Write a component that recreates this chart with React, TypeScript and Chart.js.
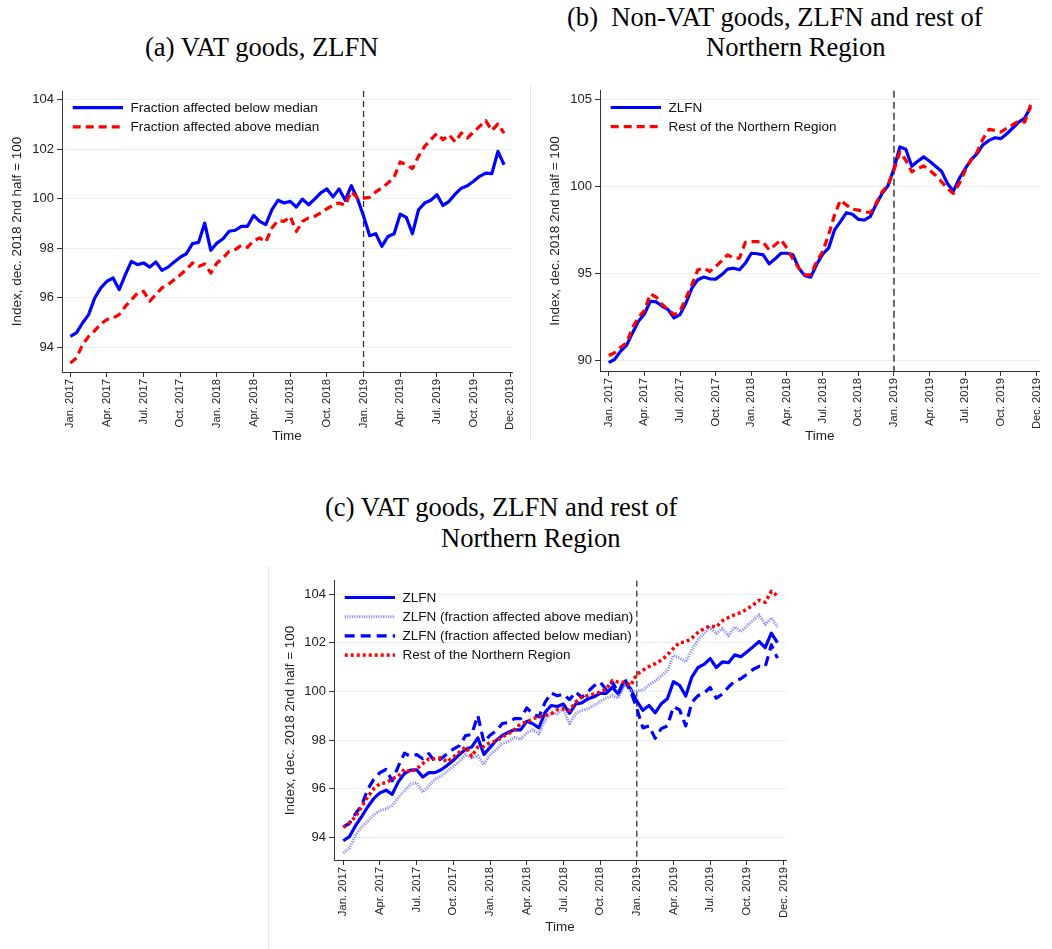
import React, { useEffect, useRef } from 'react';
import { Chart, registerables } from 'chart.js';

Chart.register(...registerables);
Chart.defaults.font.family = "'Liberation Sans', Arial, sans-serif";
Chart.defaults.color = '#222';

// x axis: half-month index, Jan 2017 first half = 0
const tickPositions = [0, 6, 12, 18, 24, 30, 36, 42, 48, 54, 60, 66, 72];
const tickLabels = [
  'Jan. 2017', 'Apr. 2017', 'Jul. 2017', 'Oct. 2017',
  'Jan. 2018', 'Apr. 2018', 'Jul. 2018', 'Oct. 2018',
  'Jan. 2019', 'Apr. 2019', 'Jul. 2019', 'Oct. 2019', 'Dec. 2019',
];
const breakIndex = 48;

// (a) / (c): VAT goods, ZLFN by fraction affected
const vatBelowMedian = [
  94.43, 94.57, 94.97, 95.31, 95.98, 96.39, 96.66, 96.79, 96.32, 96.92, 97.46, 97.33,
  97.40, 97.23, 97.44, 97.10, 97.23, 97.44, 97.63, 97.77, 98.18, 98.23, 99.01, 97.91,
  98.20, 98.38, 98.68, 98.72, 98.88, 98.88, 99.32, 99.08, 98.95, 99.55, 99.93, 99.82,
  99.89, 99.66, 99.98, 99.75, 99.98, 100.23, 100.39, 100.07, 100.39, 99.93, 100.52, 100.0,
  99.30, 98.50, 98.58, 98.07, 98.47, 98.58, 99.37, 99.24, 98.58, 99.55, 99.82, 99.93,
  100.16, 99.72, 99.89, 100.18, 100.42, 100.52, 100.70, 100.90, 101.03, 101.01, 101.91, 101.37,
];
const vatAboveMedian = [
  93.35, 93.56, 94.09, 94.43, 94.66, 94.93, 95.11, 95.17, 95.31, 95.64, 95.91, 96.18,
  96.25, 95.85, 96.12, 96.39, 96.52, 96.72, 96.92, 97.13, 97.40, 97.26, 97.36, 96.99,
  97.40, 97.60, 97.87, 97.94, 98.11, 98.03, 98.30, 98.41, 98.25, 98.81, 99.11, 99.08,
  99.28, 98.67, 99.08, 99.22, 99.28, 99.42, 99.59, 99.73, 99.82, 99.73, 100.29, 100.02,
  100.02, 100.05, 100.27, 100.43, 100.63, 100.86, 101.48, 101.37, 101.21, 101.71, 102.11, 102.38,
  102.63, 102.38, 102.58, 102.29, 102.65, 102.45, 102.69, 102.92, 103.15, 102.75, 103.02, 102.65,
];

// (b): Non-VAT goods
const nonVatZLFN = [
  89.89, 90.08, 90.55, 90.88, 91.60, 92.27, 92.69, 93.42, 93.38, 93.13, 92.94, 92.46,
  92.65, 93.32, 94.18, 94.66, 94.81, 94.71, 94.69, 94.94, 95.27, 95.32, 95.23, 95.61,
  96.18, 96.15, 96.09, 95.57, 95.86, 96.18, 96.18, 96.09, 95.32, 94.89, 94.81, 95.55,
  96.13, 96.47, 97.52, 98.00, 98.51, 98.42, 98.13, 98.09, 98.28, 98.99, 99.62, 100.06,
  101.05, 102.29, 102.16, 101.18, 101.47, 101.72, 101.47, 101.18, 100.90, 100.19, 99.75, 100.48,
  101.05, 101.56, 101.91, 102.42, 102.67, 102.82, 102.77, 103.05, 103.38, 103.72, 103.95, 104.58,
];
const nonVatRest = [
  90.30, 90.46, 90.78, 91.03, 91.89, 92.50, 92.88, 93.84, 93.65, 93.23, 92.94, 92.65,
  92.84, 93.61, 94.37, 95.23, 95.32, 95.13, 95.42, 95.74, 96.09, 95.90, 95.90, 96.81,
  96.85, 96.85, 96.81, 96.37, 96.66, 96.95, 96.47, 95.84, 95.32, 94.94, 94.94, 95.71,
  96.28, 97.23, 98.38, 99.24, 98.95, 98.72, 98.66, 98.57, 98.51, 99.05, 99.71, 100.10,
  100.95, 102.00, 101.53, 100.86, 101.05, 101.20, 100.95, 100.67, 100.29, 99.90, 99.62, 100.19,
  100.95, 101.56, 102.00, 102.77, 103.30, 103.24, 103.15, 103.38, 103.57, 103.78, 103.72, 104.71,
];

// (c): VAT goods, ZLFN and rest
const vatZLFN = [
  93.86, 94.03, 94.48, 94.85, 95.26, 95.60, 95.83, 95.94, 95.77, 96.28, 96.62, 96.76,
  96.78, 96.48, 96.66, 96.66, 96.78, 96.96, 97.17, 97.41, 97.62, 97.71, 98.09, 97.41,
  97.70, 97.98, 98.19, 98.32, 98.42, 98.42, 98.77, 98.67, 98.50, 99.14, 99.42, 99.38,
  99.48, 99.10, 99.48, 99.53, 99.69, 99.78, 99.92, 99.92, 100.17, 99.89, 100.37, 100.10,
  99.60, 99.22, 99.42, 99.12, 99.49, 99.70, 100.40, 100.25, 99.81, 100.59, 100.98, 101.11,
  101.35, 100.98, 101.21, 101.18, 101.50, 101.42, 101.62, 101.83, 102.05, 101.80, 102.39, 102.00,
];
const vatRest = [
  94.41, 94.60, 94.85, 95.26, 95.66, 96.00, 96.21, 96.24, 96.41, 96.51, 96.80, 96.69,
  96.82, 97.03, 97.23, 97.23, 97.27, 97.10, 97.30, 97.51, 97.71, 97.33, 97.71, 97.74,
  97.90, 97.96, 98.13, 98.26, 98.42, 98.67, 98.74, 98.88, 98.95, 99.01, 99.08, 99.25,
  99.29, 99.22, 99.56, 99.76, 99.83, 99.90, 99.97, 100.10, 100.45, 100.38, 100.38, 100.24,
  100.70, 100.87, 101.02, 101.14, 101.28, 101.50, 101.77, 102.01, 102.03, 102.19, 102.42, 102.58,
  102.69, 102.65, 102.90, 103.04, 103.15, 103.24, 103.38, 103.55, 103.75, 103.66, 104.11, 103.93,
];

const yTicksA = [94, 96, 98, 100, 102, 104];
const yTicksB = [90, 95, 100, 105];
const yTicksC = [94, 96, 98, 100, 102, 104];

const yTitle = 'Index, dec. 2018 2nd half = 100';
const xTitle = 'Time';

const toPoints = (arr: number[]) => arr.map((y, i) => ({ x: i, y }));

type Series = { label: string; values: number[]; color: string; width: number; dash: number[] };

type PanelProps = {
  left: number; top: number; width: number; height: number;
  series: Series[];
  xMin: number; xMax: number; yMin: number; yMax: number; yTicks: number[];
  yAxisWidth: number; xAxisHeight: number;
  padTop: number; padRight: number;
  yTitlePad: number; xTitlePad: number;
  vline: { color: string; width: number; dash: number[] };
};

function ChartPanel(p: PanelProps) {
  const ref = useRef<HTMLCanvasElement | null>(null);
  useEffect(() => {
    if (!ref.current) return;
    const n = p.series.length;
    const legendPlugin = {
      id: 'customLegend',
      afterDatasetsDraw(chart: any) {
        const { ctx, chartArea } = chart;
        ctx.save();
        p.series.forEach((s, k) => {
          const y = chartArea.top + 16.7 + k * 19.2;
          ctx.strokeStyle = s.color;
          ctx.lineWidth = s.width;
          ctx.setLineDash(s.dash);
          ctx.lineCap = 'butt';
          ctx.beginPath();
          ctx.moveTo(chartArea.left + 10.7, y);
          ctx.lineTo(chartArea.left + 61, y);
          ctx.stroke();
          ctx.setLineDash([]);
          ctx.fillStyle = '#111';
          ctx.font = "13.5px 'Liberation Sans', Arial, sans-serif";
          ctx.textBaseline = 'middle';
          ctx.textAlign = 'left';
          ctx.fillText(s.label, chartArea.left + 68.5, y + 0.5);
        });
        ctx.restore();
      },
    };
    const vlinePlugin = {
      id: 'breakLine',
      beforeDatasetsDraw(chart: any) {
        const { ctx, chartArea, scales } = chart;
        const x = scales.x.getPixelForValue(breakIndex);
        ctx.save();
        ctx.strokeStyle = p.vline.color;
        ctx.lineWidth = p.vline.width;
        ctx.setLineDash(p.vline.dash);
        ctx.beginPath();
        ctx.moveTo(x, chartArea.top);
        ctx.lineTo(x, chartArea.bottom);
        ctx.stroke();
        ctx.restore();
      },
    };
    const chart = new Chart(ref.current, {
      type: 'line',
      data: {
        datasets: p.series.map((s, k) => ({
          label: s.label,
          data: toPoints(s.values),
          borderColor: s.color,
          borderWidth: s.width,
          borderDash: s.dash,
          borderJoinStyle: 'round',
          pointRadius: 0,
          tension: 0,
          fill: false,
          order: n - k,
        })),
      },
      options: {
        animation: false,
        responsive: false,
        maintainAspectRatio: false,
        layout: { padding: { left: 0, right: p.padRight, top: p.padTop, bottom: 0 } },
        plugins: { legend: { display: false }, tooltip: { enabled: false } },
        scales: {
          x: {
            type: 'linear',
            min: p.xMin,
            max: p.xMax,
            afterBuildTicks: (s: any) => { s.ticks = tickPositions.map((v) => ({ value: v })); },
            afterFit: (s: any) => { s.height = p.xAxisHeight; },
            ticks: {
              autoSkip: false,
              maxRotation: 90,
              minRotation: 90,
              padding: 2,
              font: { size: 11.2 },
              color: '#222',
              callback: (v: any) => {
                const idx = tickPositions.indexOf(Number(v));
                return idx >= 0 ? tickLabels[idx] : '';
              },
            },
            grid: { drawOnChartArea: false, drawTicks: true, tickLength: 5, tickColor: '#333', tickWidth: 1 },
            border: { display: true, color: '#333', width: 1 },
            title: { display: true, text: xTitle, font: { size: 13.5 }, color: '#222', padding: { top: 0, bottom: p.xTitlePad } },
          },
          y: {
            type: 'linear',
            min: p.yMin,
            max: p.yMax,
            afterBuildTicks: (s: any) => { s.ticks = p.yTicks.map((v) => ({ value: v })); },
            afterFit: (s: any) => { s.width = p.yAxisWidth; },
            ticks: { padding: 3, font: { size: 13 }, color: '#222' },
            grid: { color: '#e6eff1', lineWidth: 1, tickLength: 5, tickColor: '#333', tickWidth: 1 },
            border: { display: true, color: '#333', width: 1 },
            title: { display: true, text: yTitle, font: { size: 13.5 }, color: '#222', padding: { top: p.yTitlePad, bottom: 0 } },
          },
        },
      } as any,
      plugins: [vlinePlugin, legendPlugin],
    } as any);
    return () => chart.destroy();
  }, []);
  return (
    <canvas
      ref={ref}
      width={p.width}
      height={p.height}
      style={{ position: 'absolute', left: p.left, top: p.top, width: p.width, height: p.height }}
    />
  );
}

const serif = "'Liberation Serif', 'Times New Roman', serif";
const titleStyle = (left: number, top: number): React.CSSProperties => ({
  position: 'absolute', left, top, fontFamily: serif, fontSize: 26.6, lineHeight: '30px',
  color: '#000', whiteSpace: 'nowrap',
});

export default function App() {
  return (
    <div style={{ position: 'absolute', left: 0, top: 0, width: 1052, height: 949, background: '#fff', overflow: 'hidden' }}>
      <div style={titleStyle(145, 32)}>(a) VAT goods, ZLFN</div>
      <div style={titleStyle(567, 2)}>(b)&nbsp; Non-VAT goods, ZLFN and rest of</div>
      <div style={titleStyle(706, 32)}>Northern Region</div>
      <div style={titleStyle(325, 492)}>(c) VAT goods, ZLFN and rest of</div>
      <div style={titleStyle(441, 523)}>Northern Region</div>

      <div style={{ position: 'absolute', left: 530, top: 85, width: 1, height: 355, background: '#e4e4e4' }} />
      <div style={{ position: 'absolute', left: 268, top: 566, width: 1, height: 383, background: '#e4e4e4' }} />

      <ChartPanel
        left={0} top={80} width={530} height={370}
        series={[
          { label: 'Fraction affected below median', values: vatBelowMedian, color: '#0000ff', width: 3.2, dash: [] },
          { label: 'Fraction affected above median', values: vatAboveMedian, color: '#ff0000', width: 3.2, dash: [8, 5] },
        ]}
        xMin={-1.36} xMax={72.3} yMin={92.99} yMax={104.35} yTicks={yTicksA}
        yAxisWidth={62} xAxisHeight={78} padTop={11} padRight={18}
        yTitlePad={9.4} xTitlePad={6}
        vline={{ color: '#333', width: 1.3, dash: [6, 4] }}
      />
      <ChartPanel
        left={530} top={80} width={522} height={370}
        series={[
          { label: 'ZLFN', values: nonVatZLFN, color: '#0000ff', width: 3.2, dash: [] },
          { label: 'Rest of the Northern Region', values: nonVatRest, color: '#ff0000', width: 3.2, dash: [8, 5] },
        ]}
        xMin={-1.47} xMax={72.5} yMin={89.41} yMax={105.52} yTicks={yTicksB}
        yAxisWidth={70} xAxisHeight={79} padTop={10} padRight={0}
        yTitlePad={17.5} xTitlePad={6}
        vline={{ color: '#666', width: 2, dash: [7, 4] }}
      />
      <ChartPanel
        left={265} top={570} width={535} height={375}
        series={[
          { label: 'ZLFN', values: vatZLFN, color: '#0000ff', width: 3.2, dash: [] },
          { label: 'ZLFN (fraction affected above median)', values: vatAboveMedian, color: '#8f8ff2', width: 3, dash: [1.2, 1.2] },
          { label: 'ZLFN (fraction affected below median)', values: vatBelowMedian, color: '#0000ff', width: 3.2, dash: [10, 6] },
          { label: 'Rest of the Northern Region', values: vatRest, color: '#ff0000', width: 3.5, dash: [3, 3] },
        ]}
        xMin={-1.52} xMax={72.4} yMin={93.07} yMax={104.545} yTicks={yTicksC}
        yAxisWidth={69} xAxisHeight={85} padTop={10} padRight={14}
        yTitlePad={17} xTitlePad={10}
        vline={{ color: '#333', width: 1.3, dash: [6, 4] }}
      />
    </div>
  );
}
